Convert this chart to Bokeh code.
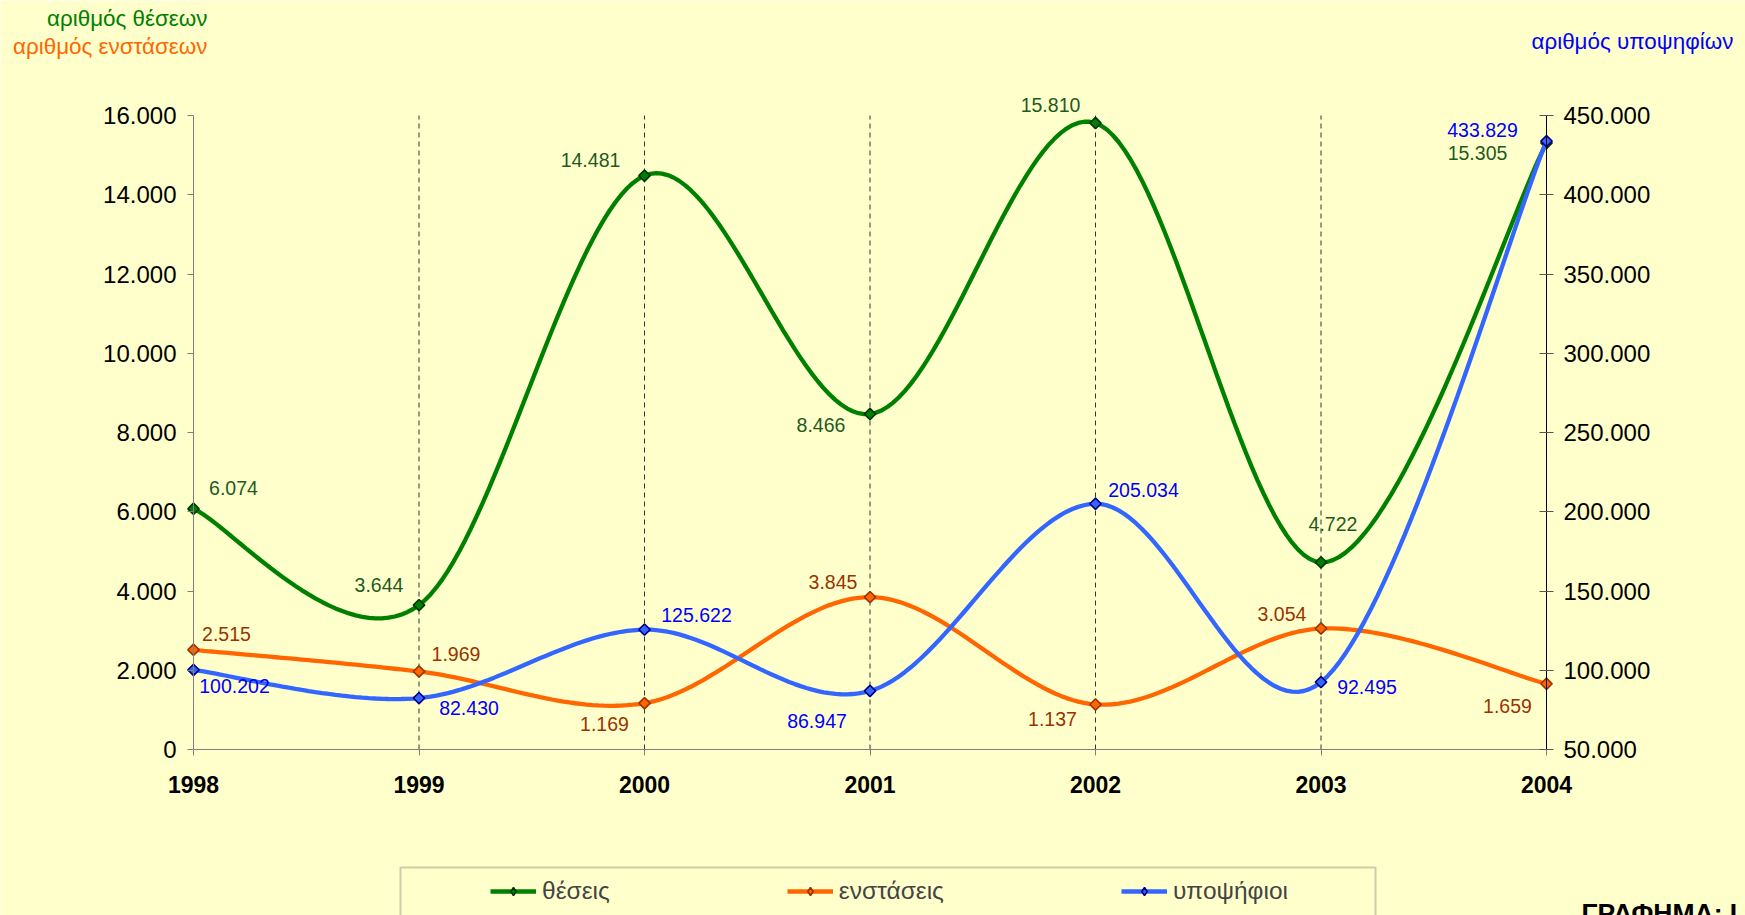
import numpy as np
from bokeh.plotting import figure
from bokeh.models import (Range1d, LinearAxis, FixedTicker, CustomJSTickFormatter, Label,
                          Legend, LegendItem, BoxAnnotation, ColumnDataSource)
from bokeh.core.properties import value
from bokeh.embed import file_html
from bokeh.resources import INLINE

# ---------------- data ----------------
years = [1998, 1999, 2000, 2001, 2002, 2003, 2004]
theseis = [6074, 3644, 14481, 8466, 15810, 4722, 15305]
enstaseis = [2515, 1969, 1169, 3845, 1137, 3054, 1659]
ypopsifioi = [100202, 82430, 125622, 86947, 205034, 92495, 433829]
left_ticks = [0, 2000, 4000, 6000, 8000, 10000, 12000, 14000, 16000]
right_ticks = [50000, 100000, 150000, 200000, 250000, 300000, 350000, 400000, 450000]
series_names = ["θέσεις", "ενστάσεις", "υποψήφιοι"]

# label placement (pixel offsets, styling only)
off_th = [(40, -21), (-40, -20), (-54, -16), (-49, 11), (-45, -18), (12, -38), (-69, 10)]
off_en = [(33, -16), (37, -17), (-40, 21), (-37, -15), (-43, 15), (-39, -14), (-39, 22)]
off_yp = [(41, 16), (50, 10), (52, -15), (-53, 30), (48, -14), (46, 5), (-64, -11)]

FONT = "Liberation Sans"
BG = "#FFFFCC"
W, H = 1745, 915
# pixel box of the plotting area inside the canvas (layout)
PL, PR, PT, PB = 193, 1546, 115, 749


def fmt(v):
    return f"{v:,}".replace(",", ".")


def smooth(xs, ys, n=40):
    """Excel-like smoothed line: cubic Bezier through the points (Catmull-Rom tangents)."""
    x = np.asarray(xs, float)
    y = np.asarray(ys, float)
    P = np.column_stack([x, y])
    Pp = np.vstack([P[0], P, P[-1]])
    t = np.linspace(0, 1, n)[:, None]
    out = []
    for i in range(len(P) - 1):
        p0, p1 = P[i], P[i + 1]
        pm, pn = Pp[i], Pp[i + 3]
        c1 = p0 + (p1 - pm) / 6.0
        c2 = p1 - (pn - p0) / 6.0
        seg = ((1 - t) ** 3) * p0 + 3 * ((1 - t) ** 2) * t * c1 + 3 * (1 - t) * t ** 2 * c2 + t ** 3 * p1
        out.append(seg if i == 0 else seg[1:])
    arr = np.vstack(out)
    return arr[:, 0], arr[:, 1]


def padded(lo, hi, px_lo, px_hi, px_total_lo, px_total_hi):
    """Extend a range [lo, hi] drawn between px_lo..px_hi to the whole canvas."""
    per = (hi - lo) / (px_hi - px_lo)
    return lo - (px_lo - px_total_lo) * per, hi + (px_total_hi - px_hi) * per


x0, x1 = padded(years[0], years[-1], PL, PR, 0, W)
y0, y1 = padded(left_ticks[0], left_ticks[-1], H - PB, H - PT, 0, H)
c0, c1 = padded(right_ticks[0], right_ticks[-1], H - PB, H - PT, 0, H)

p = figure(width=W, height=H, x_range=Range1d(x0, x1), y_range=Range1d(y0, y1),
           output_backend="svg", toolbar_location=None, min_border=0,
           background_fill_color=BG, border_fill_color=BG, outline_line_color=None)
p.extra_y_ranges = {"cand": Range1d(c0, c1)}
p.grid.visible = False

thousands = CustomJSTickFormatter(code=r"return Math.round(tick).toString().replace(/\B(?=(\d{3})+(?!\d))/g, '.');")

# left axis
ya = p.yaxis[0]
ya.fixed_location = years[0]
ya.bounds = (left_ticks[0], left_ticks[-1])
ya.ticker = FixedTicker(ticks=left_ticks)
ya.formatter = thousands
ya.axis_line_color = "#808080"
ya.major_tick_line_color = "#808080"
ya.major_tick_out = 6
ya.major_tick_in = 0
ya.minor_tick_line_color = None
ya.major_label_text_font = FONT
ya.major_label_text_font_size = "24px"
ya.major_label_text_color = "black"
ya.major_label_standoff = 11

# right axis
ra = LinearAxis(y_range_name="cand", ticker=FixedTicker(ticks=right_ticks), formatter=thousands,
                fixed_location=years[-1], bounds=(right_ticks[0], right_ticks[-1]))
ra.axis_line_color = "black"
ra.major_tick_line_color = "#555555"
ra.major_tick_out = 7
ra.major_tick_in = 7
ra.minor_tick_line_color = None
ra.major_label_text_font = FONT
ra.major_label_text_font_size = "24px"
ra.major_label_text_color = "black"
ra.major_label_standoff = 10
p.add_layout(ra, "right")

# bottom axis
xa = p.xaxis[0]
xa.fixed_location = left_ticks[0]
xa.bounds = (years[0], years[-1])
xa.ticker = FixedTicker(ticks=years)
xa.axis_line_color = "#808080"
xa.major_tick_line_color = "#808080"
xa.major_tick_out = 6
xa.major_tick_in = 0
xa.minor_tick_line_color = None
xa.major_label_text_font = FONT
xa.major_label_text_font_size = "23px"
xa.major_label_text_font_style = "bold"
xa.major_label_text_color = "black"
xa.major_label_standoff = 20

# vertical dashed category lines
p.segment(x0=years[1:-1], x1=years[1:-1], y0=left_ticks[0], y1=left_ticks[-1],
          line_color="#333333", line_dash="5 4", line_width=1)

# series
specs = [
    (theseis, "#008000", "#008000", "#003300", "#1E5A1E", off_th, "default"),
    (enstaseis, "#FF6600", "#FF6600", "#993300", "#993300", off_en, "default"),
    (ypopsifioi, "#3366FF", "#3366FF", "#000080", "#0000FF", off_yp, "cand"),
]
items = []
for (vals, lc, fc, oc, tc, offs, rng), name in zip(specs, series_names):
    sx, sy = smooth(years, vals)
    ln = p.line(sx, sy, line_color=lc, line_width=4.3, y_range_name=rng)
    src = ColumnDataSource(dict(x=years, y=vals, lab=[fmt(v) for v in vals],
                                dx=[o[0] for o in offs], dy=[o[1] for o in offs]))
    p.scatter("x", "y", source=src, marker="square", angle=45, angle_units="deg", size=8,
              fill_color=fc, line_color=oc, line_width=1.6, y_range_name=rng)
    p.text("x", "y", text="lab", source=src, x_offset="dx", y_offset="dy",
           text_align="center", text_baseline="middle", text_color=tc,
           text_font=value(FONT), text_font_size="19.5px", y_range_name=rng)
    # hidden diamond marker used only for the legend sample
    leg_mark = p.scatter("x", "y", source=src, marker="diamond", size=14, fill_color=fc,
                         line_color=oc, line_width=1.6, y_range_name=rng, visible=False)
    items.append(LegendItem(label=name, renderers=[ln, leg_mark]))

# axis titles (screen units from bottom-left of canvas)
for txt, col, xx, yy, al in [
    ("αριθμός θέσεων", "#008000", 207, H - 18, "right"),
    ("αριθμός ενστάσεων", "#FF6600", 207, H - 46, "right"),
    ("αριθμός υποψηφίων", "#0000FF", 1531, H - 41, "left"),
]:
    p.add_layout(Label(x=xx, y=yy, x_units="screen", y_units="screen", text=txt,
                       text_color=col, text_font=FONT, text_font_size="22.4px",
                       text_align=al, text_baseline="middle"))

# legend box + legend
box = BoxAnnotation(left=400, right=1375, top=H - 867, bottom=-20,
                    left_units="screen", right_units="screen", top_units="screen", bottom_units="screen",
                    fill_alpha=0, line_color="#555555", line_width=2)
p.add_layout(box)
legend = Legend(items=items, location=(490, H - 905), orientation="horizontal", spacing=177,
                padding=0, margin=0, glyph_width=46, glyph_height=20, label_height=24,
                label_standoff=6, label_text_font=FONT, label_text_font_size="24.5px",
                border_line_alpha=0, background_fill_alpha=0, inactive_fill_alpha=0)
p.add_layout(legend)

p.add_layout(Label(x=1581, y=H - 897, x_units="screen", y_units="screen", text="ΓΡΑΦΗΜΑ: Ι",
                   text_color="black", text_font=FONT, text_font_size="26.5px", text_font_style="bold",
                   text_align="left", text_baseline="top"))

open("out.html", "w").write(file_html(p, INLINE))
